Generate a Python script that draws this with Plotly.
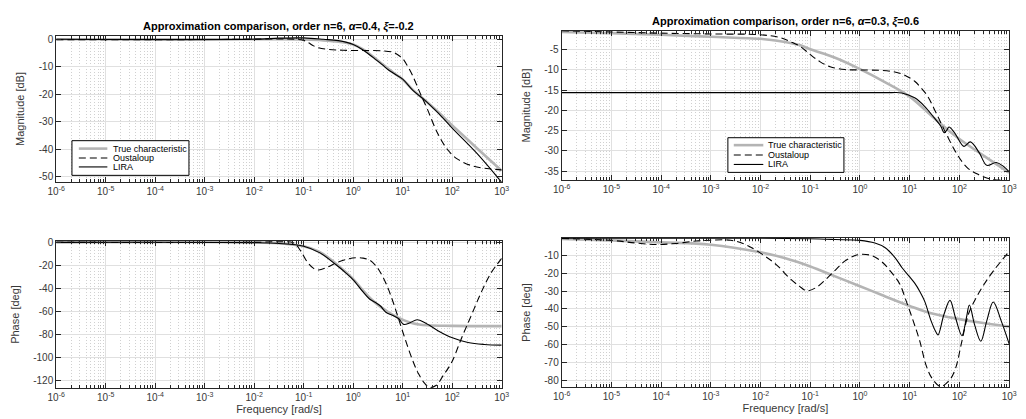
import plotly.graph_objects as go

# ---------------- data (x given as log10 of frequency in rad/s) ----------------
# Top-left: magnitude, alpha=0.4, xi=-0.2
tl_true_lw = [-6, -2, -1.5, -1, -0.6, -0.3, 0, 0.2, 0.4, 0.6, 0.8, 1.0, 1.2, 1.45, 1.7, 2.0, 2.5, 3.0]
tl_true_db = [0, 0, 0, -0.1, -0.4, -0.9, -1.9, -3.7, -6.3, -9.2, -12.0, -14.6, -18.3, -22.2, -26.2, -31.3, -39.6, -47.8]
tl_oust_lw = [-6, -3, -1.2, -1.0, -0.9, -0.8, -0.7, -0.5, -0.2, 0.2, 0.6, 0.8, 0.9, 1.0, 1.1, 1.2, 1.35, 1.5, 1.7, 1.9, 2.1, 2.4, 2.7, 3.0]
tl_oust_db = [-0.2, -0.1, 0, -0.4, -1.3, -2.4, -3.1, -3.7, -4.0, -4.1, -4.2, -4.7, -5.6, -7.0, -9.8, -13.2, -19.5, -25.5, -34.0, -40.0, -43.5, -46.0, -47.0, -47.5]
tl_lira_lw = [-6, -2, -1.5, -1, -0.6, -0.3, 0, 0.2, 0.4, 0.6, 0.7, 0.8, 1.0, 1.2, 1.45, 1.7, 2.0, 2.5, 3.0]
tl_lira_db = [0, 0, 0.4, 0.5, 0, -0.5, -1.9, -3.9, -6.6, -9.4, -11.0, -12.2, -14.5, -18.5, -22.2, -26.5, -32.3, -41.5, -52.0]

# Top-right: magnitude, alpha=0.3, xi=0.6
tr_true_lw = [-6, -5, -4, -3, -2, -1.7, -1.2, -1, -0.5, 0, 0.5, 1, 1.5, 2, 2.5, 3]
tr_true_db = [-0.6, -0.9, -1.3, -1.8, -2.3, -2.7, -3.9, -4.9, -7.0, -9.8, -13.0, -16.6, -22.0, -27.1, -31.3, -35.4]
tr_oust_lw = [-6, -5, -4, -3, -2, -1.6, -1.4, -1.2, -1.0, -0.8, -0.6, -0.3, 0, 0.4, 0.7, 0.9, 1.1, 1.22, 1.36, 1.53, 1.69, 1.95, 2.15, 2.35, 2.6, 3.0]
tr_oust_db = [-0.3, -0.6, -0.9, -1.1, -1.3, -2.0, -3.0, -4.2, -6.2, -8.0, -9.2, -9.9, -10.0, -10.1, -10.5, -11.3, -12.8, -14.3, -16.5, -20.6, -24.7, -30.8, -34.1, -35.7, -36.9, -37.4]
tr_lira_lw = [-6, 0.6, 0.84, 1.1, 1.3, 1.49, 1.625, 1.69, 1.74, 1.79, 1.9, 2.09, 2.22, 2.4, 2.55, 2.74, 2.88, 3.0]
tr_lira_db = [-15.6, -15.6, -15.7, -16.9, -19.0, -21.8, -23.9, -25.5, -25.0, -24.1, -25.5, -28.9, -27.8, -30.5, -33.6, -32.9, -33.8, -35.2]

# Bottom-left: phase, alpha=0.4, xi=-0.2
bl_true_lw = [-6, -2, -1.5, -1, -0.7, -0.5, -0.2, 0, 0.2, 0.35, 0.5, 0.7, 0.9, 1.0, 1.2, 1.5, 2, 3]
bl_true_deg = [0, 0, -0.8, -3.5, -8.0, -13.5, -24.0, -32.0, -42.0, -49.0, -54.5, -60.5, -65.5, -67.5, -70.5, -72.3, -72.8, -73.0]
bl_oust_lw = [-6, -2, -1.5, -1.2, -1.07, -0.93, -0.8, -0.7, -0.54, -0.34, -0.14, 0.05, 0.2, 0.33, 0.45, 0.52, 0.66, 0.79, 0.92, 1.05, 1.19, 1.32, 1.45, 1.55, 1.68, 1.82, 1.99, 2.18, 2.38, 2.58, 2.78, 3.0]
bl_oust_deg = [0, 0, 0.5, -0.5, -6.9, -17.0, -22.7, -24.1, -22.0, -17.8, -14.9, -13.4, -13.8, -15.5, -20.0, -24.1, -35.6, -50.0, -67.2, -84.4, -101.6, -114.6, -123.2, -126.5, -124.6, -116.0, -104.5, -84.4, -64.3, -44.2, -27.0, -14.0]
bl_lira_lw = [-6, -2, -1.5, -1, -0.67, -0.34, -0.14, 0, 0.19, 0.33, 0.45, 0.55, 0.66, 0.79, 0.92, 1.02, 1.15, 1.29, 1.45, 1.72, 1.99, 2.32, 2.65, 3.0]
bl_lira_deg = [0, -0.3, -1.0, -3.4, -9.2, -19.8, -27.0, -32.7, -42.8, -49.4, -52.5, -55.5, -60.9, -63.5, -66.6, -71.5, -70.0, -67.5, -70.0, -77.2, -83.0, -87.3, -89.0, -89.6]

# Bottom-right: phase, alpha=0.3, xi=0.6
br_true_lw = [-6, -5, -4, -3, -2, -1.5, -1, -0.5, 0, 0.44, 1, 1.43, 2, 2.41, 3]
br_true_deg = [-0.7, -1.5, -2.6, -3.9, -8.2, -11.5, -16.1, -21.7, -27.2, -32.2, -38.3, -42.4, -45.7, -47.6, -49.8]
br_oust_lw = [-6, -5, -4.5, -4.1, -3.7, -3.3, -3.0, -2.6, -2.28, -1.95, -1.68, -1.42, -1.22, -1.07, -0.89, -0.69, -0.49, -0.3, -0.1, 0.03, 0.23, 0.43, 0.62, 0.8, 0.93, 1.07, 1.2, 1.33, 1.45, 1.62, 1.8, 1.92, 2.05, 2.18, 2.35, 2.5, 2.7, 3.0]
br_oust_deg = [-0.4, -1.5, -3.0, -3.8, -3.2, -1.8, -1.4, -1.4, -4.1, -9.6, -15.2, -22.6, -27.2, -29.8, -28.1, -23.5, -18.0, -13.0, -10.0, -9.3, -10.0, -13.3, -19.0, -26.0, -35.6, -46.7, -57.8, -71.7, -79.0, -83.5, -80.0, -73.5, -58.0, -43.0, -33.0, -26.0, -18.0, -7.8]
br_lira_lw = [-6, -2, -1, -0.5, 0, 0.3, 0.5, 0.7, 0.85, 1.0, 1.1, 1.2, 1.3, 1.43, 1.53, 1.57, 1.69, 1.81, 1.92, 2.05, 2.14, 2.2, 2.31, 2.43, 2.55, 2.68, 2.84, 3.0]
br_lira_deg = [-0.2, -0.3, -0.6, -1.0, -1.5, -3.0, -5.5, -11.0, -17.0, -22.0, -25.5, -30.0, -35.6, -46.7, -53.1, -54.6, -43.0, -35.2, -44.8, -55.0, -45.0, -37.8, -49.4, -58.1, -46.7, -36.1, -46.7, -59.6]

# tick labels
x_tick_exp = [-6, -5, -4, -3, -2, -1, 0, 1, 2, 3]
x_tick_text = ["10<sup>%d</sup>" % e for e in x_tick_exp]
tl_yticks = [0, -10, -20, -30, -40, -50]
tr_yticks = [-5, -10, -15, -20, -25, -30, -35]
bl_yticks = [0, -20, -40, -60, -80, -100, -120]
br_yticks = [-10, -20, -30, -40, -50, -60, -70, -80]

series_names = ["True characteristic", "Oustaloup", "LIRA"]
title_left = "Approximation comparison, order n=6, <i>α</i>=0.4, <i>ξ</i>=-0.2"
title_right = "Approximation comparison, order n=6, <i>α</i>=0.3, <i>ξ</i>=0.6"

# ---------------- figure ----------------
W, H = 1026, 419
FONT = "Liberation Sans, Arial, Helvetica, sans-serif"
AX = "#262626"
TXT = "#383838"
TRUE_C = "#b4b4b4"

def px(v):
    return v / W

def py(v):
    return 1 - v / H

def lab(v):
    return "%g" % v if v >= 0 else "-%g" % (-v)

fig = go.Figure()

styles = [
    dict(color=TRUE_C, width=2.6),
    dict(color="black", width=1.1, dash="7px,4px"),
    dict(color="black", width=1.1),
]

panels = [
    ("x", "y", [(tl_true_lw, tl_true_db), (tl_oust_lw, tl_oust_db), (tl_lira_lw, tl_lira_db)]),
    ("x2", "y2", [(tr_true_lw, tr_true_db), (tr_oust_lw, tr_oust_db), (tr_lira_lw, tr_lira_db)]),
    ("x3", "y3", [(bl_true_lw, bl_true_deg), (bl_oust_lw, bl_oust_deg), (bl_lira_lw, bl_lira_deg)]),
    ("x4", "y4", [(br_true_lw, br_true_deg), (br_oust_lw, br_oust_deg), (br_lira_lw, br_lira_deg)]),
]

for xa, ya, series in panels:
    for (lw, vals), name, st in zip(series, series_names, styles):
        fig.add_trace(go.Scatter(
            x=[10 ** v for v in lw], y=vals, mode="lines", name=name,
            line=dict(shape="spline", smoothing=1.0, **st),
            xaxis=xa, yaxis=ya, showlegend=False, hoverinfo="skip",
        ))

minor_vals = [k * 10 ** d for d in range(-6, 3) for k in range(2, 10)]

def xaxis(domain, anchor, title=None):
    d = dict(
        type="log", range=[-6, 3], domain=domain, anchor=anchor,
        tickmode="array", tickvals=[10 ** e for e in x_tick_exp], ticktext=x_tick_text,
        ticks="inside", ticklen=5, tickcolor=AX, tickwidth=1,
        showline=True, linecolor=AX, linewidth=1, mirror="allticks",
        showgrid=True, gridcolor="#e0e0e0", gridwidth=1, zeroline=False,
        tickfont=dict(family=FONT, size=10, color=TXT),
        minor=dict(tickmode="array", tickvals=minor_vals, ticks="inside", ticklen=3,
                   tickcolor=AX, showgrid=True, gridcolor="#d0d0d0", griddash="1px,2px", gridwidth=1),
        fixedrange=True,
    )
    if title:
        d["title"] = dict(text=title, font=dict(family=FONT, size=11, color=TXT), standoff=2)
    return d

def yaxis(domain, anchor, rng, ticks, title):
    return dict(
        range=rng, domain=domain, anchor=anchor,
        tickmode="array", tickvals=ticks, ticktext=[lab(t) for t in ticks],
        ticks="inside", ticklen=5, tickcolor=AX, tickwidth=1,
        showline=True, linecolor=AX, linewidth=1, mirror="allticks",
        showgrid=True, gridcolor="#e0e0e0", gridwidth=1, zeroline=False,
        tickfont=dict(family=FONT, size=10, color=TXT),
        title=dict(text=title, font=dict(family=FONT, size=11, color=TXT), standoff=11),
        fixedrange=True,
    )

xl = [px(48), px(501)]
xr = [px(562), px(1017)]

# ---- legends (box, line samples, labels) ----
shapes = []
annotations = []
legend_boxes = [
    # box left, right, top, bottom, sample x0, x1, text x, row ys
    (64, 183, 138, 173, 71, 100, 104, [146.0, 155.5, 164.5]),
    (731, 849, 135, 170, 737, 767, 770, [142.5, 152.5, 162.0]),
]
for l, r, t, b, s0, s1, tx, rows in legend_boxes:
    shapes.append(dict(type="rect", xref="paper", yref="paper", x0=px(l), x1=px(r), y0=py(b), y1=py(t),
                       line=dict(color="black", width=1), fillcolor="white", layer="above"))
    for name, st, ry in zip(series_names, styles, rows):
        shapes.append(dict(type="line", xref="paper", yref="paper", x0=px(s0), x1=px(s1), y0=py(ry), y1=py(ry),
                           line=dict(color=st["color"], width=st["width"], dash=st.get("dash", "solid")),
                           layer="above"))
        annotations.append(dict(text=name, x=px(tx), y=py(ry), xref="paper", yref="paper", showarrow=False,
                                xanchor="left", yanchor="middle", font=dict(family=FONT, size=9, color="black")))

annotations += [
    dict(text="<b>%s</b>" % title_left, x=(xl[0] + xl[1]) / 2, y=py(23), xref="paper", yref="paper",
         showarrow=False, xanchor="center", yanchor="middle", font=dict(family=FONT, size=11, color="black")),
    dict(text="<b>%s</b>" % title_right, x=(xr[0] + xr[1]) / 2, y=py(18), xref="paper", yref="paper",
         showarrow=False, xanchor="center", yanchor="middle", font=dict(family=FONT, size=11, color="black")),
]

fig.update_layout(
    width=W, height=H, margin=dict(l=0, r=0, t=0, b=0),
    paper_bgcolor="white", plot_bgcolor="white", showlegend=False,
    font=dict(family=FONT, size=10, color=TXT),
    xaxis=xaxis(xl, "y"),
    yaxis=yaxis([py(180), py(32)], "x", [-52.0, 1.3], tl_yticks, "Magnitude [dB]"),
    xaxis2=xaxis(xr, "y2"),
    yaxis2=yaxis([py(178), py(27)], "x2", [-37.3, -0.3], tr_yticks, "Magnitude [dB]"),
    xaxis3=xaxis(xl, "y3", "Frequency [rad/s]"),
    yaxis3=yaxis([py(388), py(239)], "x3", [-127.2, 1.4], bl_yticks, "Phase [deg]"),
    xaxis4=xaxis(xr, "y4", "Frequency [rad/s]"),
    yaxis4=yaxis([py(387), py(236)], "x4", [-84.0, 0.0], br_yticks, "Phase [deg]"),
    shapes=shapes,
    annotations=annotations,
)

fig.write_html("out.html")
